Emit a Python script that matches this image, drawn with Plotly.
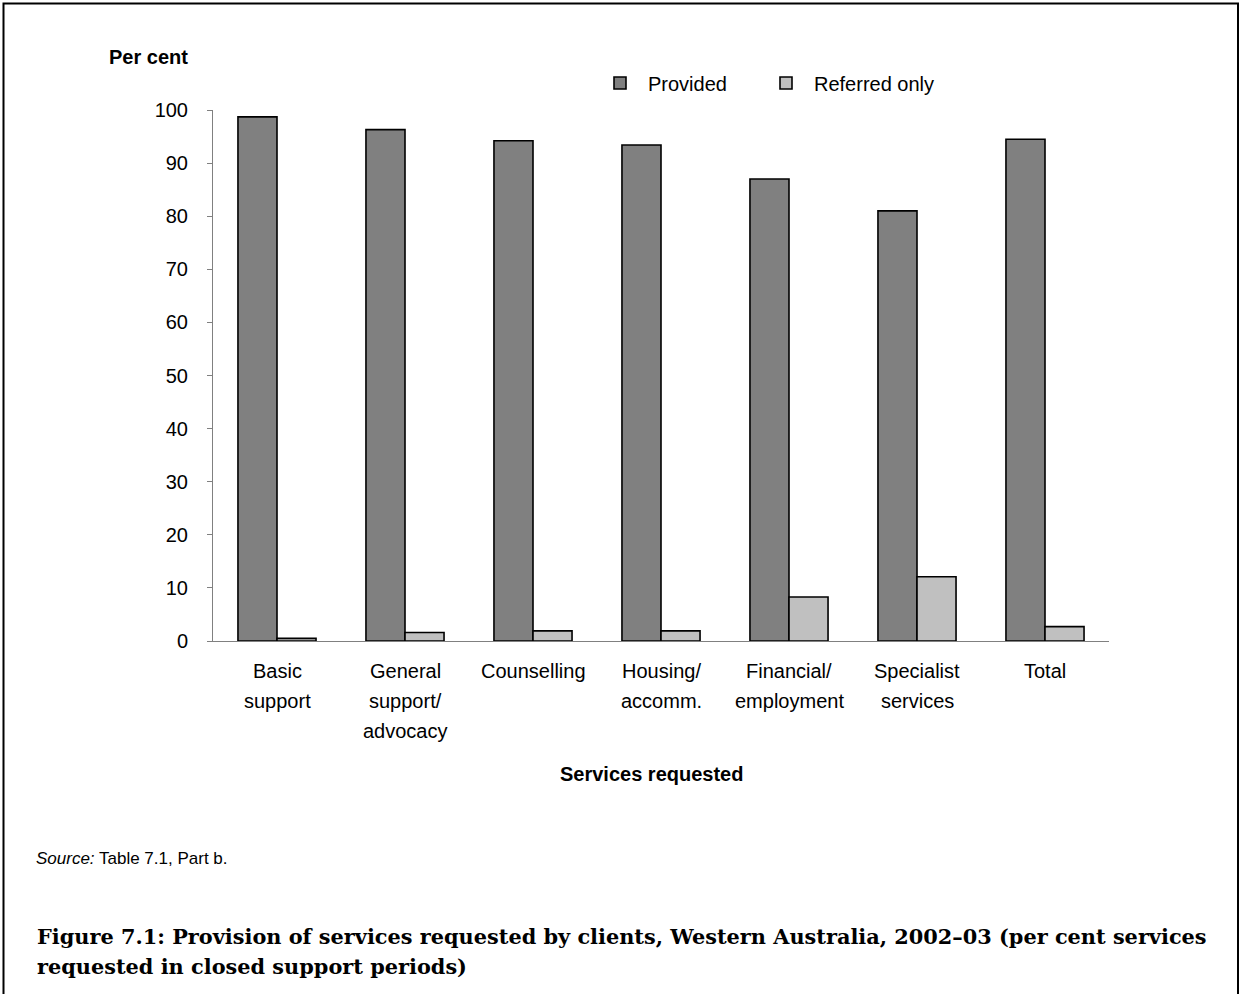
import plotly.graph_objects as go

# Services requested and share of each (per cent)
categories = ["Basic support", "General support/advocacy", "Counselling",
              "Housing/accomm.", "Financial/employment", "Specialist services", "Total"]
category_lines = [["Basic", "support"], ["General", "support/", "advocacy"], ["Counselling"],
                  ["Housing/", "accomm."], ["Financial/", "employment"], ["Specialist", "services"],
                  ["Total"]]
provided = [98.7, 96.3, 94.2, 93.4, 87.0, 81.0, 94.5]
referred_only = [0.5, 1.6, 1.9, 1.9, 8.3, 12.1, 2.7]
y_ticks = [0, 10, 20, 30, 40, 50, 60, 70, 80, 90, 100]
title_lines = ["Figure 7.1: Provision of services requested by clients, Western Australia, 2002–03 (per cent services",
               "requested in closed support periods)"]

W, H = 1241, 994
PL, PR, PT, PB = 213, 1109, 110, 641  # plot area in pixels


def px(x):
    return (x - PL) / (PR - PL)


def py(y):
    return (PB - y) / (PB - PT)


SANS = "Liberation Sans, Arial, sans-serif"
SERIF = "DejaVu Serif, serif"

fig = go.Figure()
fig.add_trace(go.Bar(x=categories, y=provided, name="Provided", legend="legend",
                     marker=dict(color="#808080", line=dict(color="black", width=1.6))))
fig.add_trace(go.Bar(x=categories, y=referred_only, name="Referred only", legend="legend2",
                     marker=dict(color="#C0C0C0", line=dict(color="black", width=1.6))))

annotations = []
for cat, lines in zip(categories, category_lines):
    for i, line in enumerate(lines):
        annotations.append(dict(x=cat, xref="x", y=py(671 + 30 * i), yref="paper",
                                text=line, showarrow=False, xanchor="center", yanchor="middle",
                                font=dict(family=SANS, size=20, color="black")))

for i, line in enumerate(title_lines):
    annotations.append(dict(x=px(35), y=py(936 + 30 * i), xref="paper", yref="paper",
                            text="<b>" + line + "</b>", showarrow=False,
                            xanchor="left", yanchor="middle",
                            font=dict(family=SERIF, size=20.85, color="black")))

annotations += [
    dict(x=px(107), y=py(57), xref="paper", yref="paper", text="<b>Per cent</b>",
         showarrow=False, xanchor="left", yanchor="middle",
         font=dict(family=SANS, size=20, color="black")),
    dict(x=px(651), y=py(774), xref="paper", yref="paper", text="<b>Services requested</b>",
         showarrow=False, xanchor="center", yanchor="middle",
         font=dict(family=SANS, size=20, color="black")),
    dict(x=px(34), y=py(858), xref="paper", yref="paper",
         text="<i>Source:</i> Table 7.1, Part b.",
         showarrow=False, xanchor="left", yanchor="middle",
         font=dict(family=SANS, size=17, color="black")),
]

legend_style = dict(orientation="h", yanchor="middle", xanchor="left", itemwidth=46,
                    font=dict(family=SANS, size=20, color="black"),
                    bgcolor="rgba(0,0,0,0)")

fig.update_layout(
    width=W, height=H,
    margin=dict(l=PL, r=W - PR, t=PT, b=H - PB),
    paper_bgcolor="white", plot_bgcolor="white",
    barmode="group", bargap=0.39, bargroupgap=0,
    font=dict(family=SANS, size=20, color="black"),
    showlegend=True,
    legend=dict(x=px(592), y=py(83), **legend_style),
    legend2=dict(x=px(758), y=py(83), **legend_style),
    xaxis=dict(showticklabels=False, ticks="", showline=True, linecolor="#808080",
               linewidth=1, showgrid=False, range=[-0.5, 6.5], zeroline=False),
    yaxis=dict(range=[0, 100], tickvals=y_ticks, ticks="outside", ticklen=5,
               tickcolor="#808080", showline=True, linecolor="#808080", linewidth=1,
               showgrid=False, zeroline=False, ticklabelstandoff=15,
               tickfont=dict(family=SANS, size=20, color="black")),
    annotations=annotations,
    shapes=[dict(type="rect", xref="paper", yref="paper",
                 x0=px(3.5), x1=px(1238), y0=py(1000), y1=py(3.5),
                 line=dict(color="black", width=2), layer="above")],
)

fig.write_html("out.html")
